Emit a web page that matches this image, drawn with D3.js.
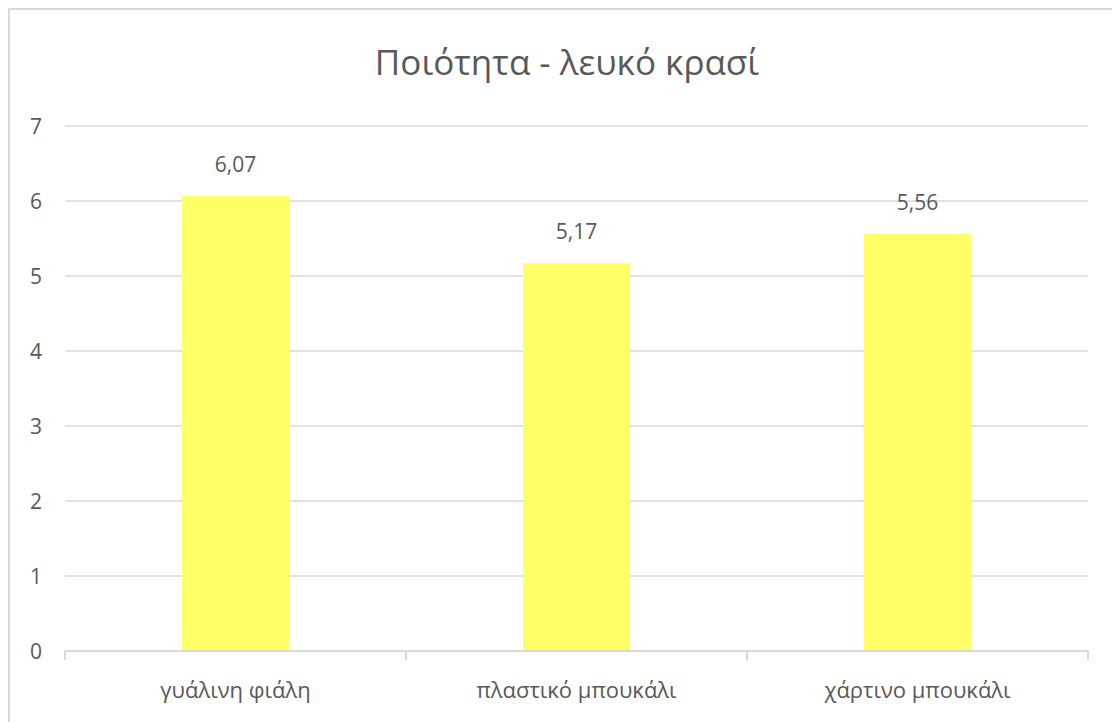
<!DOCTYPE html>
<html><head><meta charset="utf-8">
<script src="https://cdn.jsdelivr.net/npm/d3@7"></script>
<style>body{margin:0;background:#fff}svg{display:block}text{font-family:"Open Sans","Noto Sans",sans-serif}</style>
</head><body><svg id="c" width="1112" height="722"></svg>
<script>
const title = "Ποιότητα - λευκό κρασί";
const categories = ["γυάλινη φιάλη", "πλαστικό μπουκάλι", "χάρτινο μπουκάλι"];
const values = [6.07, 5.17, 5.56];
const yTicks = [0, 1, 2, 3, 4, 5, 6, 7];

const svg = d3.select("#c");
const m = {l: 65, r: 1088, t: 126, b: 651};
const text = "#595959", grid = "#d9d9d9";

svg.append("rect").attr("x", 9).attr("y", 9).attr("width", 1120).attr("height", 730)
  .attr("fill", "#fff").attr("stroke", grid).attr("stroke-width", 2);

const x = d3.scaleBand().domain(categories).range([m.l, m.r]).paddingInner(0.686).paddingOuter(0.343);
const y = d3.scaleLinear().domain([0, 7]).range([m.b, m.t]);

svg.append("text").attr("x", 567).attr("y", 75).attr("text-anchor", "middle")
  .attr("font-size", 35).attr("fill", text).text(title);

svg.append("g").selectAll("line").data(yTicks.filter(d => d > 0)).join("line")
  .attr("x1", m.l).attr("x2", m.r).attr("y1", d => y(d)).attr("y2", d => y(d))
  .attr("stroke", grid).attr("stroke-width", 1.5);

svg.append("g").selectAll("text").data(yTicks).join("text")
  .attr("x", 42).attr("y", d => y(d)).attr("dy", "0.36em").attr("text-anchor", "end")
  .attr("font-size", 21).attr("fill", text).text(d => d);

svg.append("g").selectAll("rect").data(values).join("rect")
  .attr("x", (d, i) => x(categories[i])).attr("width", x.bandwidth())
  .attr("y", d => y(d)).attr("height", d => y(0) - y(d)).attr("fill", "#ffff66");

svg.append("g").selectAll("text").data(values).join("text")
  .attr("x", (d, i) => x(categories[i]) + x.bandwidth() / 2).attr("y", d => y(d) - 24)
  .attr("text-anchor", "middle").attr("font-size", 21).attr("fill", text)
  .text(d => d.toFixed(2).replace(".", ","));

const ax = svg.append("g").attr("transform", `translate(0,${m.b})`);
ax.append("line").attr("x1", m.l).attr("x2", m.r).attr("stroke", grid).attr("stroke-width", 2);
const step = x.step();
const edges = [m.l].concat(categories.map((c, i) => m.l + step * (i + 1)));
ax.selectAll("line.t").data(edges).join("line").attr("class", "t")
  .attr("x1", d => d).attr("x2", d => d).attr("y1", 0).attr("y2", 9)
  .attr("stroke", grid).attr("stroke-width", 2);
ax.selectAll("text.c").data(categories).join("text").attr("class", "c")
  .attr("x", d => x(d) + x.bandwidth() / 2).attr("y", 47).attr("text-anchor", "middle")
  .attr("font-size", 22).attr("fill", text).text(d => d);
</script></body></html>
